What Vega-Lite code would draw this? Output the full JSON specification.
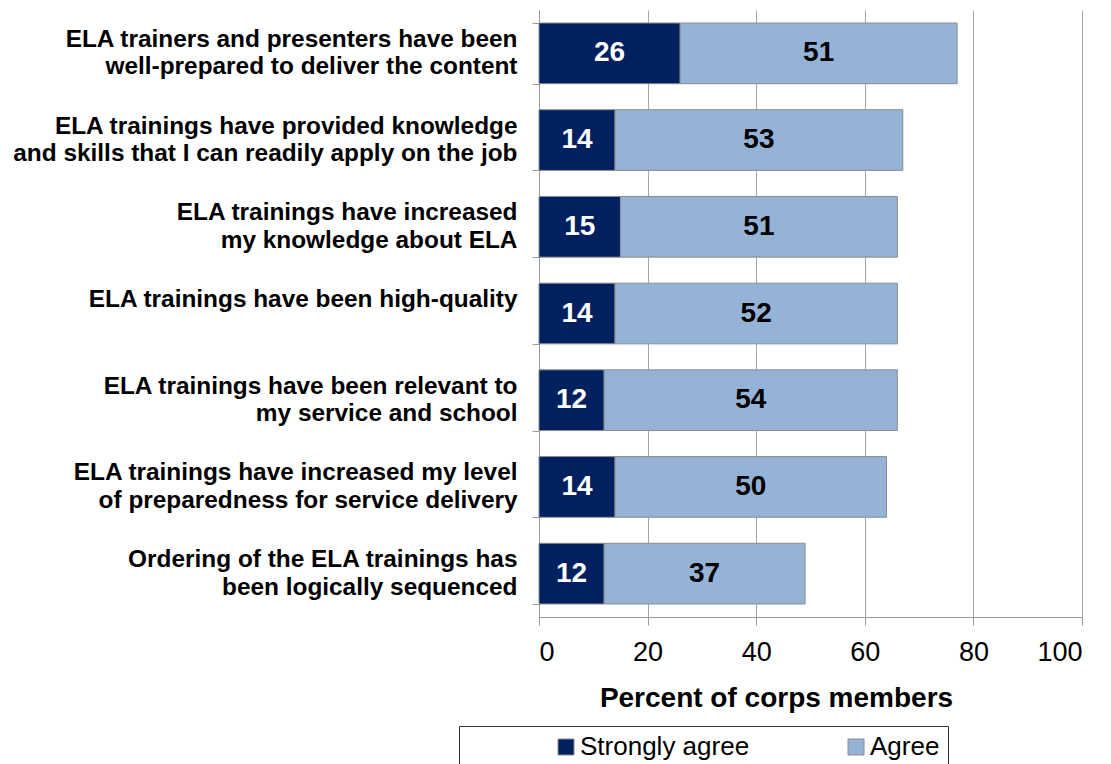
{
  "$schema": "https://vega.github.io/schema/vega-lite/v6.json",
  "width": 543,
  "height": 607,
  "autosize": {"type": "none"},
  "padding": {"left": 539, "top": 10, "right": 29, "bottom": 147},
  "background": "white",
  "config": {
    "font": "Liberation Sans",
    "view": {"stroke": null}
  },
  "data": {
    "values": [
      {"item": "ELA trainers and presenters have been|well-prepared to deliver the content", "series": "Strongly agree", "value": 26},
      {"item": "ELA trainers and presenters have been|well-prepared to deliver the content", "series": "Agree", "value": 51},
      {"item": "ELA trainings have provided knowledge|and skills that I can readily apply on the job", "series": "Strongly agree", "value": 14},
      {"item": "ELA trainings have provided knowledge|and skills that I can readily apply on the job", "series": "Agree", "value": 53},
      {"item": "ELA trainings have increased|my knowledge about ELA", "series": "Strongly agree", "value": 15},
      {"item": "ELA trainings have increased|my knowledge about ELA", "series": "Agree", "value": 51},
      {"item": "ELA trainings have been high-quality", "series": "Strongly agree", "value": 14},
      {"item": "ELA trainings have been high-quality", "series": "Agree", "value": 52},
      {"item": "ELA trainings have been relevant to|my service and school", "series": "Strongly agree", "value": 12},
      {"item": "ELA trainings have been relevant to|my service and school", "series": "Agree", "value": 54},
      {"item": "ELA trainings have increased my level|of preparedness for service delivery", "series": "Strongly agree", "value": 14},
      {"item": "ELA trainings have increased my level|of preparedness for service delivery", "series": "Agree", "value": 50},
      {"item": "Ordering of the ELA trainings has|been logically sequenced", "series": "Strongly agree", "value": 12},
      {"item": "Ordering of the ELA trainings has|been logically sequenced", "series": "Agree", "value": 37}
    ]
  },
  "transform": [
    {"stack": "value", "groupby": ["item"], "sort": [{"field": "series", "order": "descending"}], "as": ["x0", "x1"]},
    {"calculate": "(datum.x0 + datum.x1) / 2", "as": "mid"}
  ],
  "encoding": {
    "y": {
      "field": "item",
      "type": "nominal",
      "sort": null,
      "scale": {"paddingInner": 0.3, "paddingOuter": 0.15},
      "axis": {
        "title": null,
        "labelExpr": "split(datum.label, '|')",
        "labelFontSize": 24.4,
        "labelFontWeight": "bold",
        "labelColor": "black",
        "labelLineHeight": 27.6,
        "labelBaseline": "line-bottom",
        "labelLimit": 600,
        "labelPadding": 15,
        "tickBand": "extent",
        "ticks": true,
        "tickSize": 7,
        "tickColor": "#999999",
        "domainColor": "#999999"
      }
    }
  },
  "layer": [
    {
      "mark": {"type": "bar", "stroke": "#8c8c8c", "strokeWidth": 1},
      "encoding": {
        "x": {
          "field": "x0",
          "type": "quantitative",
          "scale": {"domain": [0, 100]},
          "axis": {
            "values": [0, 20, 40, 60, 80, 100],
            "grid": true,
            "gridColor": "#a6a6a6",
            "domainColor": "#999999",
            "tickColor": "#999999",
            "tickSize": 8,
            "labelFontSize": 27,
            "labelColor": "black",
            "labelPadding": 14,
            "title": "Percent of corps members",
            "titleFontSize": 28,
            "titleFontWeight": "bold",
            "titleColor": "black",
            "titleX": 237,
            "titleY": 89,
            "titleAlign": "center",
            "titleBaseline": "alphabetic"
          }
        },
        "x2": {"field": "x1"},
        "color": {
          "field": "series",
          "type": "nominal",
          "scale": {"domain": ["Strongly agree", "Agree"], "range": ["#002060", "#95b3d7"]},
          "legend": {
            "title": null,
            "orient": "none",
            "direction": "horizontal",
            "legendX": -80,
            "legendY": 716,
            "strokeColor": "#333333",
            "padding": 8,
            "symbolType": "square",
            "symbolSize": 256,
            "symbolStrokeColor": "#8c8c8c",
            "symbolStrokeWidth": 1,
            "symbolOffset": 86,
            "labelOffset": 1,
            "labelFontSize": 26,
            "labelLimit": 500,
            "labelColor": "black",
            "columnPadding": 7
          }
        }
      }
    },
    {
      "mark": {"type": "text", "fontSize": 28, "fontWeight": "bold", "align": "center", "baseline": "middle"},
      "encoding": {
        "x": {"field": "mid", "type": "quantitative"},
        "text": {"field": "value", "type": "quantitative"},
        "color": {
          "field": "series",
          "type": "nominal",
          "scale": {"domain": ["Strongly agree", "Agree"], "range": ["white", "black"]},
          "legend": null
        }
      }
    }
  ],
  "resolve": {"scale": {"color": "independent"}}
}
